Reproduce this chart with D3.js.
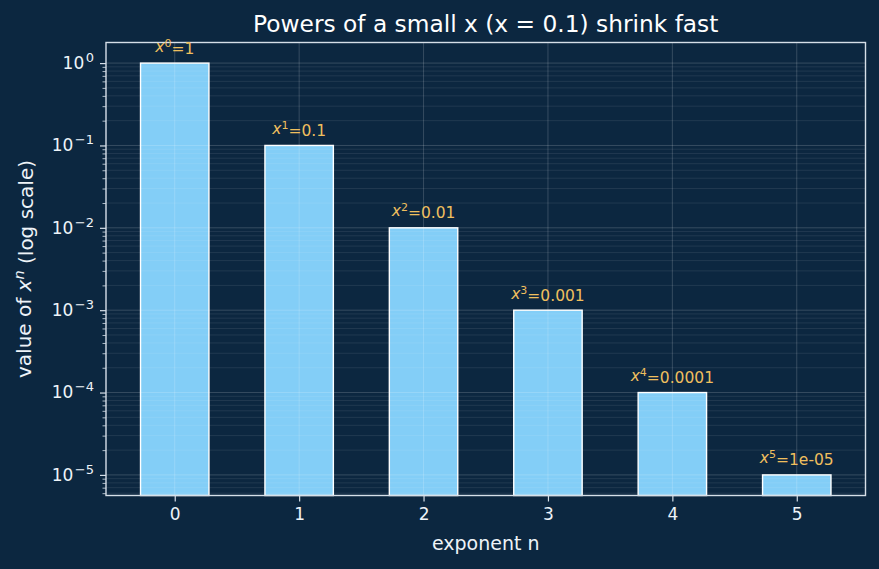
<!DOCTYPE html>
<html>
<head>
<meta charset="utf-8">
<script src="https://cdn.jsdelivr.net/npm/d3@7"></script>
<style>
  html, body { margin: 0; padding: 0; background: #0c2740; }
  svg { display: block; font-family: "DejaVu Sans", sans-serif; }
</style>
</head>
<body>
<script>
/* Data */

var exponents   = [0, 1, 2, 3, 4, 5];
var values      = [1, 0.1, 0.01, 0.001, 0.0001, 0.00001];
var valueLabels = ["1", "0.1", "0.01", "0.001", "0.0001", "1e-05"];
var yTickExps   = [0, -1, -2, -3, -4, -5];

/* Labels */

var TITLE  = "Powers of a small x (x = 0.1) shrink fast",
    XLABEL = "exponent n";

/* Measures */

var W = 879,
    H = 569;

var PLOT = { left: 106, right: 865.5, top: 42.5, bottom: 495.5 },
    BAR_WIDTH = 0.55,
    LABEL_GAP = 11.5;

/* Colours */

var BG       = "#0c2740",
    BAR_FILL = "#87d4fd",
    SPINE    = "#d6dfe8",
    TEXT     = "#eef3f8",
    ANNOT    = "#efbf5e";

var svg = d3.select("body").append("svg")
    .attr("width", W)
    .attr("height", H);

svg.append("rect")
    .attr("width", W)
    .attr("height", H)
    .attr("fill", BG);

var x = d3.scaleLinear()
    .domain([-0.275 - 0.2775, 5.275 + 0.2775])
    .range([PLOT.left, PLOT.right]);

var y = d3.scaleLog()
    .domain([Math.pow(10, -5.25), Math.pow(10, 0.25)])
    .range([PLOT.bottom, PLOT.top]);

// minor tick positions: 2..9 x 10^k inside the domain
var minorTicks = [];
for (var k = -6; k <= 0; k++) {
  for (var m = 2; m <= 9; m++) {
    var v = m * Math.pow(10, k);
    if (v >= y.domain()[0] && v <= y.domain()[1]) minorTicks.push(v);
  }
}
var majorTicks = yTickExps.map(function(e) { return Math.pow(10, e); });

/* Bars */

svg.append("g").selectAll("rect")
    .data(values)
    .enter().append("rect")
    .attr("x", function(d, i) { return x(exponents[i] - BAR_WIDTH / 2); })
    .attr("y", function(d) { return y(d); })
    .attr("width", x(BAR_WIDTH) - x(0))
    .attr("height", function(d) { return PLOT.bottom - y(d); })
    .attr("fill", BAR_FILL)
    .attr("fill-opacity", 0.97)
    .attr("stroke", "#ffffff")
    .attr("stroke-width", 1.4);

/* Grid (drawn over the bars) */

var grid = svg.append("g");

grid.selectAll("line.minor")
    .data(minorTicks)
    .enter().append("line")
    .attr("class", "minor")
    .attr("x1", PLOT.left).attr("x2", PLOT.right)
    .attr("y1", function(d) { return y(d); })
    .attr("y2", function(d) { return y(d); })
    .attr("stroke", "#ffffff")
    .attr("stroke-opacity", 0.15)
    .attr("stroke-width", 0.6);

grid.selectAll("line.major")
    .data(majorTicks)
    .enter().append("line")
    .attr("class", "major")
    .attr("x1", PLOT.left).attr("x2", PLOT.right)
    .attr("y1", function(d) { return y(d); })
    .attr("y2", function(d) { return y(d); })
    .attr("stroke", "#ffffff")
    .attr("stroke-opacity", 0.22)
    .attr("stroke-width", 0.8);

grid.selectAll("line.vert")
    .data(exponents)
    .enter().append("line")
    .attr("class", "vert")
    .attr("y1", PLOT.top).attr("y2", PLOT.bottom)
    .attr("x1", function(d) { return x(d); })
    .attr("x2", function(d) { return x(d); })
    .attr("stroke", "#ffffff")
    .attr("stroke-opacity", 0.22)
    .attr("stroke-width", 0.8);

/* Axes */

var xAxis = svg.append("g")
    .attr("transform", "translate(0," + PLOT.bottom + ")")
    .call(d3.axisBottom(x).tickValues(exponents).tickFormat(d3.format("d"))
          .tickSize(6).tickPadding(6));

var yAxis = svg.append("g")
    .attr("transform", "translate(" + PLOT.left + ",0)")
    .call(d3.axisLeft(y).tickValues(majorTicks).tickSize(6).tickPadding(6));

svg.append("g")
    .attr("transform", "translate(" + PLOT.left + ",0)")
    .call(d3.axisLeft(y).tickValues(minorTicks).tickSize(3.5).tickFormat(""))
    .call(function(g) { g.select(".domain").remove(); })
    .selectAll("line").attr("stroke", SPINE).attr("stroke-width", 0.8);

[xAxis, yAxis].forEach(function(g) {
  g.select(".domain").remove();
  g.selectAll(".tick line").attr("stroke", SPINE).attr("stroke-width", 1.2);
  g.selectAll(".tick text")
    .attr("fill", TEXT)
    .attr("font-size", 17)
    .attr("font-family", "DejaVu Sans");
});

// y tick labels as 10 with a superscript exponent
yAxis.selectAll(".tick text").each(function(d, i) {
  var t = d3.select(this).text("");
  t.append("tspan").text("10");
  t.append("tspan")
    .attr("dx", 1.5)
    .attr("dy", "-0.55em")
    .attr("font-size", 13)
    .text(yTickExps[i] < 0 ? "\u2212" + (-yTickExps[i]) : String(yTickExps[i]));
});

/* Frame */

svg.append("rect")
    .attr("x", PLOT.left)
    .attr("y", PLOT.top)
    .attr("width", PLOT.right - PLOT.left)
    .attr("height", PLOT.bottom - PLOT.top)
    .attr("fill", "none")
    .attr("stroke", SPINE)
    .attr("stroke-width", 1.4);

/* Value annotations */

var annot = svg.append("g").selectAll("text")
    .data(values)
    .enter().append("text")
    .attr("x", function(d, i) { return x(exponents[i]); })
    .attr("y", function(d) { return y(d) - LABEL_GAP; })
    .attr("text-anchor", "middle")
    .attr("fill", ANNOT)
    .attr("font-size", 15.5);

annot.append("tspan").attr("font-style", "italic").text("x");
annot.append("tspan")
    .attr("dy", "-0.45em")
    .attr("font-size", 11)
    .text(function(d, i) { return exponents[i]; });
annot.append("tspan")
    .attr("dy", "0.45em")
    .text(function(d, i) { return "=" + valueLabels[i]; });

/* Title and axis labels */

svg.append("text")
    .attr("x", (PLOT.left + PLOT.right) / 2)
    .attr("y", 31.5)
    .attr("text-anchor", "middle")
    .attr("fill", "#ffffff")
    .attr("font-size", 23.3)
    .text(TITLE);

svg.append("text")
    .attr("x", (PLOT.left + PLOT.right) / 2)
    .attr("y", 550)
    .attr("text-anchor", "middle")
    .attr("fill", TEXT)
    .attr("font-size", 19)
    .text(XLABEL);

var yLabel = svg.append("text")
    .attr("transform", "translate(31," + (PLOT.top + PLOT.bottom) / 2 + ") rotate(-90)")
    .attr("text-anchor", "middle")
    .attr("fill", TEXT)
    .attr("font-size", 20);
yLabel.append("tspan").text("value of ");
yLabel.append("tspan").attr("font-style", "italic").text("x");
yLabel.append("tspan").attr("dy", "-0.45em").attr("font-size", 14.5).attr("font-style", "italic").text("n");
yLabel.append("tspan").attr("dy", "0.45em").text(" (log scale)");
</script>
</body>
</html>
